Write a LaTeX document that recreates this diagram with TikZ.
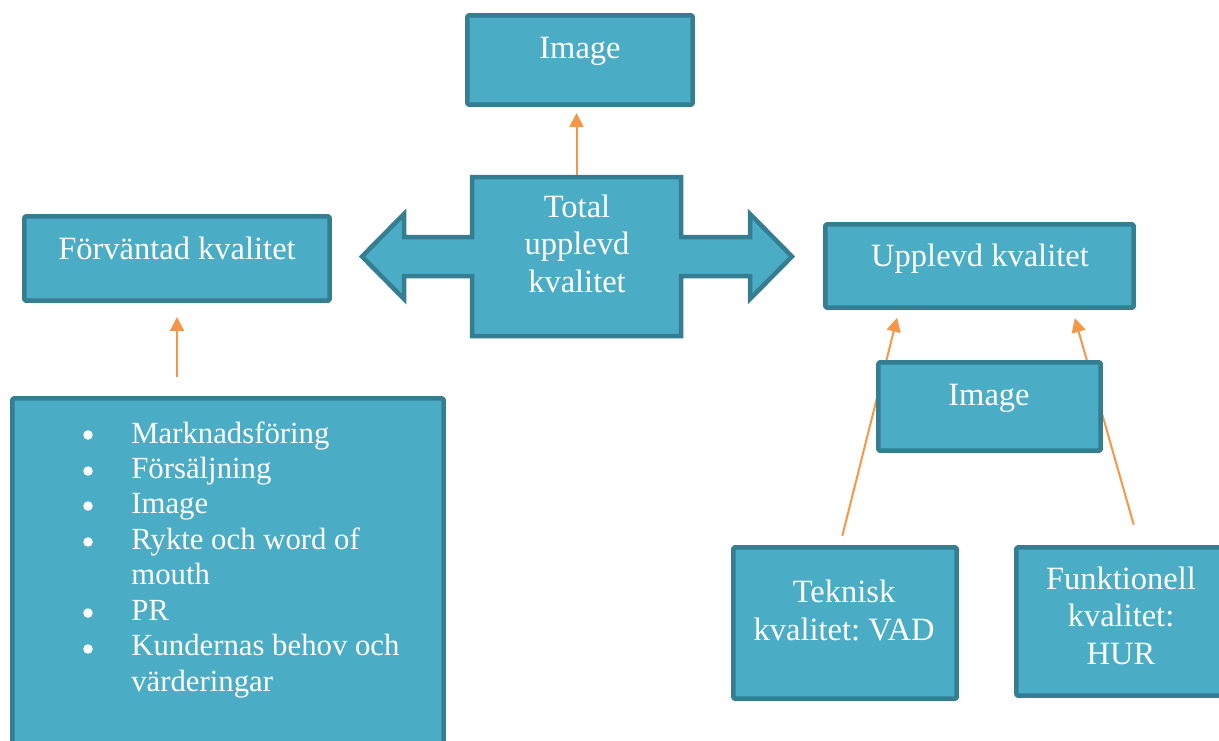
\documentclass[tikz,border=0pt]{standalone}
\usepackage{fontspec}
\setmainfont{Liberation Serif}
\frenchspacing
\usetikzlibrary{arrows.meta,backgrounds}
\definecolor{fyll}{HTML}{4BACC6}
\definecolor{kant}{HTML}{357D91}
\definecolor{orangepil}{HTML}{F79646}
\tikzset{
	ruta/.style={draw=kant, fill=fyll, line width=0.09cm, rounded corners=0.04cm, inner sep=0pt},
	txt/.style={text=white, font=\fontsize{18.5}{21.3}\selectfont, align=center, inner sep=0pt},
	pilen/.style={draw=orangepil, line width=0.04cm, -{Triangle[length=0.28cm,width=0.28cm]}}
}
\begin{document}
\begin{tikzpicture}[x=0.02cm, y=-0.02cm, line join=round]
	\useasboundingbox (0,0) rectangle (1219,740);
	\clip (0,0) rectangle (1219,740);
	% rutor
	\node[ruta, minimum width=4.51cm, minimum height=1.79cm] (bild) at (580,60) {};
	\node[txt, anchor=base] at (580,59) {Image};
	\node[ruta, minimum width=6.11cm, minimum height=1.69cm] (forv) at (177,258.5) {};
	\node[txt, anchor=base] at (177,259) {Förväntad kvalitet};
	\node[ruta, minimum width=6.17cm, minimum height=1.67cm] (upp) at (979.5,266) {};
	\node[txt, anchor=base] at (980,266) {Upplevd kvalitet};
	\node[ruta, minimum width=4.45cm, minimum height=1.77cm] (bild2) at (989.5,406.5) {};
	\node[txt, anchor=base] at (989,405) {Image};
	\node[ruta, minimum width=4.47cm, minimum height=3.03cm] (tek) at (845,623) {};
	\node[txt, anchor=base] at (844,640) {Teknisk\\kvalitet: VAD};
	\node[ruta, minimum width=4.19cm, minimum height=2.97cm] (funk) at (1121,621.5) {};
	\node[txt, anchor=base] at (1121,664) {Funktionell\\kvalitet:\\HUR};
	\node[ruta, minimum width=8.63cm, minimum height=7.19cm] (lista) at (228,578) {};
	\node[txt, font=\fontsize{17.5}{20.2}\selectfont, anchor=base west, align=left] at (131,443) {%
		\begin{tabular}[t]{@{}l@{}}
			Marknadsföring\\
			Försäljning\\
			Image\\
			Rykte och word of\\
			mouth\\
			PR\\
			Kundernas behov och\\
			värderingar
		\end{tabular}};
	\foreach \y in {435,471,506,542,613,649}{
		\fill[white] (88,\y) circle (0.095cm);
	}
	% mitten: pil at båda hållen
	\draw[ruta, sharp corners, line join=miter] (472,177) -- (681,177) -- (681,237) -- (750,237) -- (750,214) -- (792,256.5)
		-- (750,299) -- (750,276) -- (681,276) -- (681,336) -- (472,336) -- (472,276) -- (404,276)
		-- (404,299) -- (362,256.5) -- (404,214) -- (404,237) -- (472,237) -- cycle;
	\coordinate (totaltopp) at (576.5,175);
	\node[txt, anchor=base] (total) at (577,292) {Total\\upplevd\\kvalitet};
	% pilar
	\begin{pgfonlayer}{background}
		\draw[pilen, shorten >=0.12cm] (totaltopp) -- (totaltopp |- bild.south);
		\draw[pilen, shorten <=0.38cm, shorten >=0.28cm] (forv.south |- lista.north) -- (forv.south);
		\draw[pilen, shorten <=0.19cm, shorten >=0.16cm] ([xshift=-0.1cm]tek.north) -- ([xshift=-1.61cm]upp.south);
		\draw[pilen, shorten <=0.42cm, shorten >=0.17cm] ([xshift=0.37cm]funk.north) -- ([xshift=1.86cm]upp.south);
	\end{pgfonlayer}
\end{tikzpicture}
\end{document}
